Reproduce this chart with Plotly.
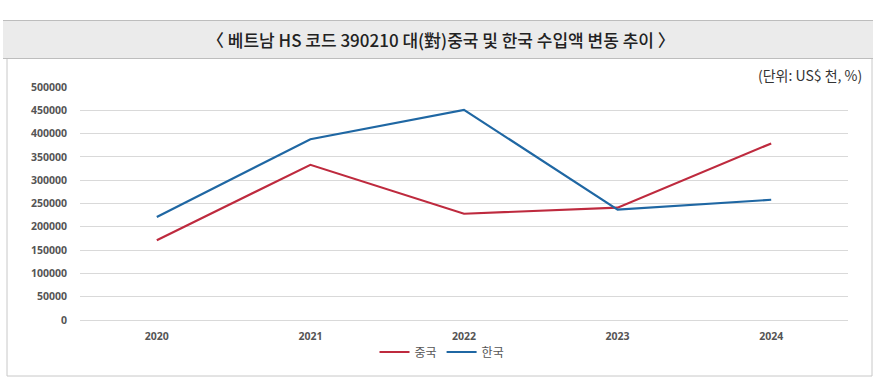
import plotly.graph_objects as go

years = ["2020", "2021", "2022", "2023", "2024"]
china = [171000, 333000, 228000, 241000, 379000]
korea = [221000, 388000, 451000, 237000, 258000]
y_ticks = [0, 50000, 100000, 150000, 200000, 250000, 300000, 350000, 400000, 450000, 500000]

W, H = 884, 391
L, R, T, B = 80, 848, 87, 320


def px(x):
    return (x - L) / (R - L)


def py(y):
    return (B - y) / (B - T)


fig = go.Figure()
fig.add_trace(go.Scatter(x=years, y=china, name="중국", mode="lines",
                         line=dict(color="#BE2A3E", width=2.2)))
fig.add_trace(go.Scatter(x=years, y=korea, name="한국", mode="lines",
                         line=dict(color="#1F67A3", width=2.2)))

tickfont = dict(family="Open Sans, sans-serif", size=10.5, color="#555555", weight=700)

fig.update_layout(
    width=W, height=H,
    margin=dict(l=L, r=W - R, t=T, b=H - B, pad=0),
    paper_bgcolor="white", plot_bgcolor="white",
    showlegend=True,
    legend=dict(orientation="h", x=px(442), xanchor="center", y=py(352), yanchor="middle",
                font=dict(family="Noto Sans CJK KR, sans-serif", size=12, color="#555555"),
                itemwidth=30, tracegroupgap=0, bgcolor="rgba(0,0,0,0)"),
    xaxis=dict(type="category", range=[-0.5, 4.5], showgrid=False, zeroline=False,
               showline=True, linecolor="#D9D9D9", linewidth=1,
               tickfont=tickfont, ticks="", ticklabelstandoff=6, fixedrange=True),
    yaxis=dict(range=[0, 500000], tickvals=y_ticks, ticktext=[str(v) for v in y_ticks],
               showgrid=True, gridcolor="#D9D9D9", gridwidth=1, zeroline=False,
               showline=False, tickfont=tickfont, ticks="", ticklabelstandoff=12,
               fixedrange=True),
    shapes=[
        # title band
        dict(type="rect", xref="paper", yref="paper", x0=px(3), x1=px(873), y0=py(58), y1=py(20),
             fillcolor="#EBEBEB", line=dict(width=0), layer="below"),
        dict(type="line", xref="paper", yref="paper", x0=px(3), x1=px(873), y0=py(20.5), y1=py(20.5),
             line=dict(color="#BDBDBD", width=1)),
        dict(type="line", xref="paper", yref="paper", x0=px(3), x1=px(873), y0=py(58.5), y1=py(58.5),
             line=dict(color="#BDBDBD", width=1)),
        # chart frame
        dict(type="rect", xref="paper", yref="paper", x0=px(7), x1=px(872), y0=py(376), y1=py(58.5),
             fillcolor="rgba(0,0,0,0)", line=dict(color="#C8C8C8", width=1), layer="below"),
    ],
    annotations=[
        dict(text="〈 베트남 HS 코드 390210 대(對)중국 및 한국 수입액 변동 추이 〉",
             xref="paper", yref="paper", x=px(441), y=py(40), xanchor="center", yanchor="middle",
             showarrow=False,
             font=dict(family="Noto Sans CJK KR, sans-serif", size=17, color="#222222", weight=500)),
        dict(text="(단위: US$ 천, %)", xref="paper", yref="paper", x=px(864), y=py(75),
             xanchor="right", yanchor="middle", showarrow=False,
             font=dict(family="Noto Sans CJK KR, sans-serif", size=14, color="#333333")),
    ],
)

fig.write_html("out.html", config={"displayModeBar": False},
               post_script="document.body.style.margin='0';")
